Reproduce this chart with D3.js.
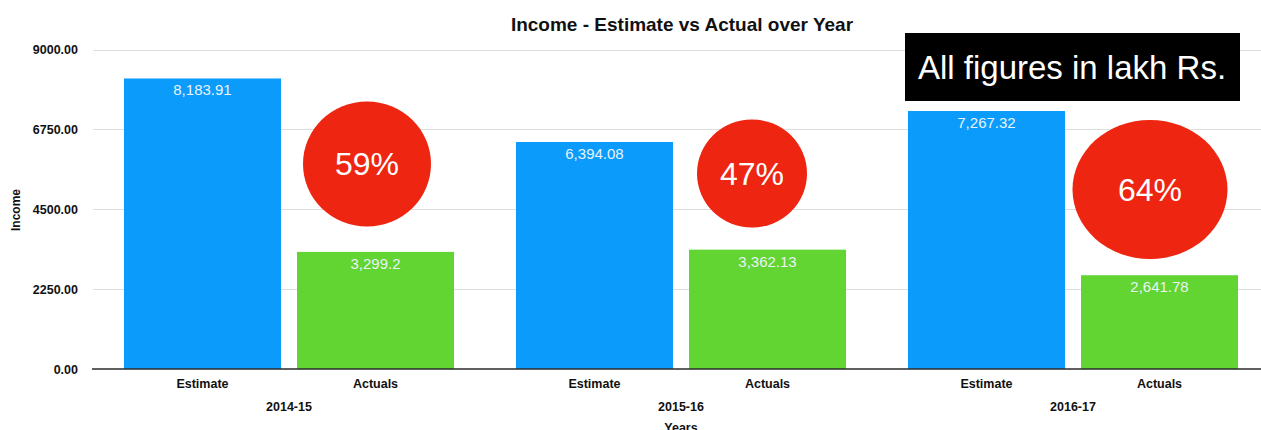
<!DOCTYPE html>
<html>
<head>
<meta charset="utf-8">
<script src="https://cdn.jsdelivr.net/npm/d3@7"></script>
<style>
  html, body { margin: 0; padding: 0; background: #fff; }
  svg { display: block; font-family: "Liberation Sans", Arial, Helvetica, sans-serif; }
</style>
</head>
<body>
<svg id="chart" width="1261" height="430"></svg>
<script>
// Income estimate vs actual, in lakh Rs.
const years = ["2014-15", "2015-16", "2016-17"];
const series = ["Estimate", "Actuals"];
const estimate = [8183.91, 6394.08, 7267.32];
const actuals = [3299.2, 3362.13, 2641.78];
const valueLabels = [["8,183.91", "3,299.2"], ["6,394.08", "3,362.13"], ["7,267.32", "2,641.78"]];
const shortfallLabels = ["59%", "47%", "64%"];
const yTicks = [0, 2250, 4500, 6750, 9000];
const seriesColors = ["#0b9cfb", "#62d532"];

const svg = d3.select("#chart");

const x0 = d3.scaleBand().domain(years).range([93, 1269]).padding(0);
const x1 = d3.scaleBand().domain(series).range([0, x0.bandwidth()])
  .paddingInner(0.0925).paddingOuter(0.179);
const y = d3.scaleLinear().domain([0, 9000]).range([369, 49.5]);

// horizontal gridlines
svg.append("g")
  .selectAll("line")
  .data(yTicks.filter(d => d > 0))
  .join("line")
  .attr("x1", 93).attr("x2", 1261)
  .attr("y1", d => Math.round(y(d)) + 0.5).attr("y2", d => Math.round(y(d)) + 0.5)
  .attr("stroke", "#dedede").attr("stroke-width", 1.2);

// y axis labels
const yAxis = d3.axisLeft(y).tickValues(yTicks).tickFormat(d3.format(".2f")).tickSize(0).tickPadding(0);
svg.append("g")
  .attr("transform", "translate(78,0)")
  .call(yAxis)
  .call(g => g.select(".domain").remove())
  .call(g => g.selectAll("text")
    .attr("font-family", "'Liberation Sans', Arial, sans-serif")
    .attr("font-size", 12.5).attr("font-weight", "bold").attr("fill", "#111"));

// bars
const rows = years.map((yr, i) => ({ year: yr, values: [estimate[i], actuals[i]], labels: valueLabels[i] }));
const groups = svg.append("g").selectAll("g")
  .data(rows)
  .join("g")
  .attr("transform", d => `translate(${x0(d.year)},0)`);

groups.selectAll("rect")
  .data(d => d.values.map((v, j) => ({ key: series[j], value: v, label: d.labels[j], idx: j })))
  .join("rect")
  .attr("x", d => x1(d.key))
  .attr("y", d => y(d.value))
  .attr("width", x1.bandwidth())
  .attr("height", d => y(0) - y(d.value))
  .attr("fill", d => seriesColors[d.idx]);

groups.selectAll("text.val")
  .data(d => d.values.map((v, j) => ({ key: series[j], value: v, label: d.labels[j] })))
  .join("text")
  .attr("class", "val")
  .attr("x", d => x1(d.key) + x1.bandwidth() / 2)
  .attr("y", d => y(d.value) + 17)
  .attr("text-anchor", "middle")
  .attr("font-size", 15)
  .attr("fill", "#eaf2f8")
  .text(d => d.label);

// x baseline
svg.append("line")
  .attr("x1", 92).attr("x2", 1261)
  .attr("y1", y(0)).attr("y2", y(0))
  .attr("stroke", "#2a2a2a").attr("stroke-width", 1.5);

// series labels under each bar
groups.selectAll("text.cat")
  .data(series)
  .join("text")
  .attr("class", "cat")
  .attr("x", d => x1(d) + x1.bandwidth() / 2)
  .attr("y", 388)
  .attr("text-anchor", "middle")
  .attr("font-size", 12.5).attr("font-weight", "bold").attr("fill", "#111")
  .text(d => d);

// year labels
groups.append("text")
  .attr("x", x0.bandwidth() / 2)
  .attr("y", 411)
  .attr("text-anchor", "middle")
  .attr("font-size", 12.5).attr("font-weight", "bold").attr("fill", "#111")
  .text(d => d.year);

// axis titles
svg.append("text")
  .attr("x", 681).attr("y", 432)
  .attr("text-anchor", "middle")
  .attr("font-size", 12.5).attr("font-weight", "bold").attr("fill", "#111")
  .text("Years");

svg.append("text")
  .attr("transform", "translate(20,210) rotate(-90)")
  .attr("text-anchor", "middle")
  .attr("font-size", 12).attr("font-weight", "bold").attr("fill", "#111")
  .text("Income");

// chart title
svg.append("text")
  .attr("x", 682).attr("y", 31)
  .attr("text-anchor", "middle")
  .attr("font-size", 19).attr("font-weight", "bold").attr("fill", "#111")
  .text("Income - Estimate vs Actual over Year");

// shortfall badges
const badges = [
  { cx: 367, cy: 164, rx: 64, ry: 62.5 },
  { cx: 752, cy: 173.5, rx: 55, ry: 54 },
  { cx: 1150, cy: 189.5, rx: 77.5, ry: 69.5 }
];
const badge = svg.append("g").selectAll("g")
  .data(badges.map((b, i) => ({ ...b, label: shortfallLabels[i] })))
  .join("g");
badge.append("ellipse")
  .attr("cx", d => d.cx).attr("cy", d => d.cy)
  .attr("rx", d => d.rx).attr("ry", d => d.ry)
  .attr("fill", "#ee2510");
badge.append("text")
  .attr("x", d => d.cx).attr("y", d => d.cy + 11)
  .attr("text-anchor", "middle")
  .attr("font-size", 32).attr("fill", "#fff")
  .text(d => d.label);

// units note
svg.append("rect")
  .attr("x", 905).attr("y", 33).attr("width", 335).attr("height", 68)
  .attr("fill", "#000");
svg.append("text")
  .attr("x", 1072).attr("y", 79)
  .attr("text-anchor", "middle")
  .attr("font-size", 33).attr("fill", "#fff")
  .text("All figures in lakh Rs.");
</script>
</body>
</html>
